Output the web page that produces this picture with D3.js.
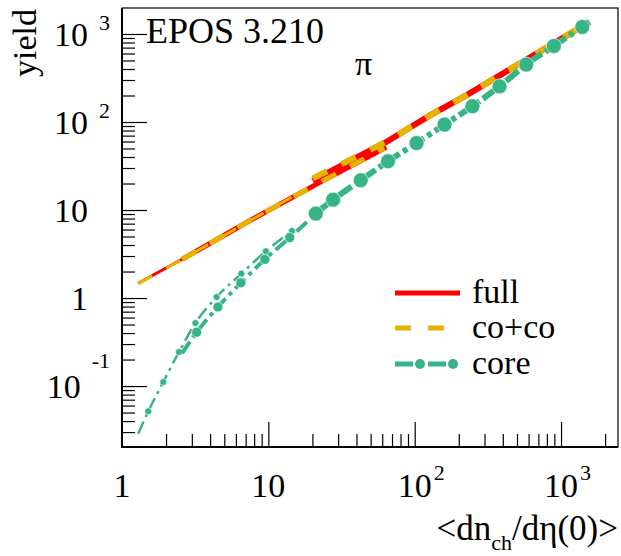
<!DOCTYPE html>
<html>
<head>
<meta charset="utf-8">
<script src="https://cdn.jsdelivr.net/npm/d3@7"></script>
<style>
body { margin: 0; background: #fff; }
svg text { font-family: "Liberation Serif", "Times New Roman", Times, "DejaVu Serif", serif; fill: #000; }
</style>
</head>
<body>
<svg id="chart" width="621" height="556"></svg>
<script>
// axis ranges
const xDomain = [1, 2450];
const yDomain = [0.0203, 1973];

const xMajor = [1, 10, 100, 1000];
const xLabelBase = ["1", "10", "10", "10"];
const xLabelExp = ["", "", "2", "3"];
const yMajor = [0.1, 1, 10, 100, 1000];
const yLabelBase = ["10", "1", "10", "10", "10"];
const yLabelExp = ["-1", "", "", "2", "3"];

// full (pp, pPb, PbPb pieces)
const fullPPx = [1.29, 2.57, 7.48, 16.4];
const fullPPy = [1.47, 2.75, 7.6, 15.9];
const fullPPbx = [2.57, 7.5, 22.5, 64];
const fullPPby = [2.75, 7.6, 20.6, 51.6];
const fullPbPbx = [20.1, 64, 127, 225, 1566];
const fullPbPby = [21.5, 59.3, 119, 201, 1369];

// co+co
const cocoPPx = [1.29, 2.57, 7.48, 16.4];
const cocoPPy = [1.46, 2.74, 7.55, 15.8];
const cocoPPbx = [2.57, 7.5, 22.5, 62];
const cocoPPby = [2.75, 7.6, 20.6, 50.5];
const cocoPbPbx = [20.1, 64, 127, 225, 1520];
const cocoPbPby = [22.9, 59.5, 119, 201, 1330];

// core
const corePPx = [1.292, 1.512, 1.913, 2.449, 3.175, 4.43, 6.54, 9.61, 14.5];
const corePPy = [0.0288, 0.0516, 0.111, 0.243, 0.52, 1.026, 1.894, 3.40, 5.77];
const corePPbx = [2.568, 3.236, 4.52, 6.49, 9.46, 14.0, 21.1];
const corePPby = [0.235, 0.408, 0.79, 1.488, 2.75, 4.86, 9.1];
const corePbPbx = [21.1, 27.7, 42.8, 65.7, 103, 160, 248, 380, 578, 893, 1396, 1565];
const corePbPby = [9.1, 13.1, 21.8, 35.8, 57.7, 93.4, 151, 254, 449, 731, 1202, 1358];

const legendNames = ["full", "co+co", "core"];

const RED = "#ff0000", ORANGE = "#e6b400", GREEN = "#37b485";
const FONT = "'Liberation Serif', 'Times New Roman', Times, 'DejaVu Serif', serif";

const svg = d3.select("#chart").attr("font-family", FONT);
const L = 122, R = 618, T = 8, B = 447;

const x = d3.scaleLog().domain(xDomain).range([L, R]);
const y = d3.scaleLog().domain(yDomain).range([B, T]);

// minor + major ticks for every decade
function decadeTicks(dom) {
    const out = [];
    for (let k = Math.floor(Math.log10(dom[0])); k <= Math.ceil(Math.log10(dom[1])); k++)
        for (let m = 1; m <= 9; m++) {
            const v = m * Math.pow(10, k);
            if (v >= dom[0] && v <= dom[1]) out.push(v);
        }
    return out;
}
const isMajor = v => Math.abs(Math.log10(v) - Math.round(Math.log10(v))) < 1e-9;

const yAxis = svg.append("g")
    .attr("transform", `translate(${L},0)`)
    .call(d3.axisRight(y).tickValues(decadeTicks(yDomain)).tickFormat(""));
yAxis.select(".domain").remove();
yAxis.selectAll(".tick line")
    .attr("x2", d => isMajor(d) ? 25 : 13)
    .attr("stroke", "#000").attr("stroke-width", 1.2);

const xAxis = svg.append("g")
    .attr("transform", `translate(0,${B})`)
    .call(d3.axisTop(x).tickValues(decadeTicks(xDomain).filter(v => v > 1)).tickFormat(""));
xAxis.select(".domain").remove();
xAxis.selectAll(".tick line")
    .attr("y2", d => isMajor(d) ? -25 : -13)
    .attr("stroke", "#000").attr("stroke-width", 1.2);

// frame
svg.append("rect")
    .attr("x", L).attr("y", T).attr("width", R - L).attr("height", B - T)
    .attr("fill", "none").attr("stroke", "#000").attr("stroke-width", 1.2);
svg.append("line").attr("x1", L).attr("x2", L).attr("y1", T).attr("y2", B + 1)
    .attr("stroke", "#000").attr("stroke-width", 2);
svg.append("line").attr("x1", L - 1).attr("x2", R).attr("y1", B).attr("y2", B)
    .attr("stroke", "#000").attr("stroke-width", 2);

// tick labels
xMajor.forEach((v, i) => {
    svg.append("text").attr("x", x(v)).attr("y", 497)
        .attr("text-anchor", "middle").attr("font-size", 34).text(xLabelBase[i]);
    if (xLabelExp[i])
        svg.append("text").attr("x", x(v) + 19).attr("y", 480)
            .attr("font-size", 22).text(xLabelExp[i]);
});
yMajor.forEach((v, i) => {
    if (!yLabelExp[i]) {
        svg.append("text").attr("x", 88).attr("y", y(v) + 12)
            .attr("text-anchor", "end").attr("font-size", 34).text(yLabelBase[i]);
        return;
    }
    const neg = yLabelExp[i].startsWith("-");
    const e = svg.append("text").attr("x", 110).attr("y", y(v) + (neg ? -18 : -4))
        .attr("text-anchor", "end").attr("font-size", 22).text(yLabelExp[i]);
    const ew = e.node().getComputedTextLength();
    svg.append("text").attr("x", 110 - ew - 11).attr("y", y(v) + 12)
        .attr("text-anchor", "end").attr("font-size", 34).text(yLabelBase[i]);
});

// axis titles
svg.append("text").attr("transform", "translate(36,9) rotate(-90)")
    .attr("text-anchor", "end").attr("font-size", 34).text("yield");
const xt = svg.append("text").attr("x", R).attr("y", 540)
    .attr("text-anchor", "end").attr("font-size", 35);
xt.append("tspan").text("<dn");
xt.append("tspan").attr("font-size", 22).attr("dy", 10).text("ch");
xt.append("tspan").attr("dy", -10).text("/dη(0)>");

svg.append("text").attr("x", 146).attr("y", 43).attr("font-size", 36).text("EPOS 3.210");
svg.append("text").attr("x", 355).attr("y", 75).attr("font-size", 34).text("π");

// curves
const lineLin = d3.line().x(d => x(d[0])).y(d => y(d[1]));
const lineSmooth = d3.line().x(d => x(d[0])).y(d => y(d[1])).curve(d3.curveMonotoneX);
const pts = (xs, ys) => xs.map((v, i) => [v, ys[i]]);

const fullSeries = [
    { d: pts(fullPPx, fullPPy), w: 3 },
    { d: pts(fullPPbx, fullPPby), w: 5 },
    { d: pts(fullPbPbx, fullPbPby), w: 6 }
];
const cocoSeries = [
    { d: pts(cocoPPx, cocoPPy), w: 3 },
    { d: pts(cocoPPbx, cocoPPby), w: 5 },
    { d: pts(cocoPbPbx, cocoPbPby), w: 6 }
];
const coreSeries = [
    { d: pts(corePPx, corePPy), w: 2.5, r: 3.5, dash: "13,5,3,5", first: 1, last: corePPx.length },
    { d: pts(corePPbx, corePPby), w: 4, r: 5, dash: "14,5,4,5", first: 1, last: corePPbx.length - 1 },
    { d: pts(corePbPbx, corePbPby), w: 6, r: 7.5, dash: "16,4,5,4", first: 0, last: corePbPbx.length - 1 }
];

fullSeries.forEach(s => {
    svg.append("path").attr("d", lineLin(s.d)).attr("fill", "none")
        .attr("stroke", RED).attr("stroke-width", s.w);
});
cocoSeries.forEach(s => {
    svg.append("path").attr("d", lineLin(s.d)).attr("fill", "none")
        .attr("stroke", ORANGE).attr("stroke-width", s.w)
        .attr("stroke-dasharray", "16,16");
});
coreSeries.forEach(s => {
    svg.append("path").attr("d", lineSmooth(s.d)).attr("fill", "none")
        .attr("stroke", GREEN).attr("stroke-width", s.w)
        .attr("stroke-dasharray", s.dash);
    svg.selectAll(null).data(s.d.slice(s.first, s.last)).enter()
        .append("circle")
        .attr("cx", d => x(d[0])).attr("cy", d => y(d[1])).attr("r", s.r)
        .attr("fill", GREEN).attr("stroke", "#fff").attr("stroke-width", 0.6);
});

// legend
const lg = svg.append("g");
const legY = [293, 328, 364];
lg.append("line").attr("x1", 395).attr("x2", 460).attr("y1", legY[0]).attr("y2", legY[0])
    .attr("stroke", RED).attr("stroke-width", 5);
lg.append("line").attr("x1", 395).attr("x2", 460).attr("y1", legY[1]).attr("y2", legY[1])
    .attr("stroke", ORANGE).attr("stroke-width", 5).attr("stroke-dasharray", "16,17");
lg.append("line").attr("x1", 395).attr("x2", 460).attr("y1", legY[2]).attr("y2", legY[2])
    .attr("stroke", GREEN).attr("stroke-width", 5).attr("stroke-dasharray", "18,15");
[420, 453].forEach(cx => lg.append("circle").attr("cx", cx).attr("cy", legY[2])
    .attr("r", 5).attr("fill", GREEN));
legendNames.forEach((n, i) => {
    lg.append("text").attr("x", 472).attr("y", legY[i] + 10)
        .attr("font-size", 34).text(n);
});
</script>
</body>
</html>
